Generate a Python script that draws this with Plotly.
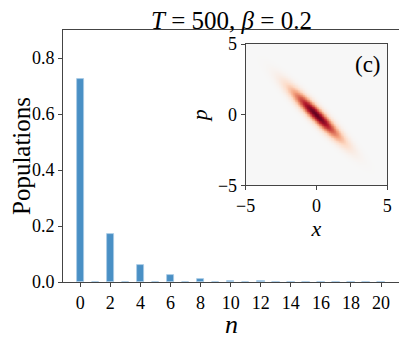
import numpy as np
import plotly.graph_objects as go

# populations (n = 0..20, odd levels empty)
n_levels = list(range(0, 21))
populations = [0.725, 0, 0.172, 0, 0.061, 0, 0.024, 0, 0.010, 0, 0.0043,
               0, 0.0019, 0, 0.0008, 0, 0.0004, 0, 0.0002, 0, 0.0001]
x_ticks = list(range(0, 21, 2))
y_ticks = [0.0, 0.2, 0.4, 0.6, 0.8]
y_labels = ["0.0", "0.2", "0.4", "0.6", "0.8"]

# inset: squeezed-vacuum Wigner function
squeeze_r = 0.85
squeeze_angle = -45  # degrees, long axis direction
inset_ticks = [-5, 0, 5]
inset_labels = ["−5", "0", "5"]

font = "Liberation Serif, DejaVu Serif, serif"
frame = "#444444"
tickfont = dict(family=font, size=18, color="black")

xs = np.linspace(-5, 5, 201)
ps = np.linspace(-5, 5, 201)
X, P = np.meshgrid(xs, ps)
th = np.deg2rad(squeeze_angle)
u = X * np.cos(th) + P * np.sin(th)
v = -X * np.sin(th) + P * np.cos(th)
sl = np.exp(squeeze_r) / np.sqrt(2)
ss = np.exp(-squeeze_r) / np.sqrt(2)
W = np.exp(-u**2 / (2 * sl**2) - v**2 / (2 * ss**2)) / np.pi
wmax = W.max()

rdbu_r = [[0.0, "#053061"], [0.1, "#2166ac"], [0.2, "#4393c3"], [0.3, "#92c5de"],
          [0.4, "#d1e5f0"], [0.5, "#f7f7f7"], [0.6, "#fddbc7"], [0.7, "#f4a582"],
          [0.8, "#d6604d"], [0.9, "#b2182b"], [1.0, "#67001f"]]

axis_style = dict(ticks="outside", ticklen=4, tickcolor=frame, showgrid=False,
                  zeroline=False, showline=True, linecolor=frame, mirror=True,
                  linewidth=1, automargin=False, tickfont=tickfont)

fig = go.Figure()
fig.add_trace(go.Bar(x=n_levels, y=populations, width=0.5,
                     marker=dict(color="#4a90c5", line=dict(color="#a9cbe6", width=0.8)),
                     xaxis="x", yaxis="y", showlegend=False))
fig.add_trace(go.Heatmap(x=xs, y=ps, z=W, zmin=-wmax, zmax=wmax, colorscale=rdbu_r,
                         showscale=False, xaxis="x2", yaxis="y2"))

# page body adds an 8px margin, so the figure is 8px smaller than the window
fig.update_layout(
    width=399, height=331,
    margin=dict(l=55, r=7, t=22, b=57, autoexpand=False),
    paper_bgcolor="white", plot_bgcolor="white",
    font=dict(family=font, size=18, color="black"),
    title=dict(text="<i>T</i> = 500, <i>β</i> = 0.2", x=0.5, xref="paper", xanchor="center",
               y=1 - 12.5 / 331, yanchor="middle", font=dict(family=font, size=25)),
    bargap=0,
    xaxis=dict(domain=[0, 1], range=[-1.15, 21.26], tickvals=x_ticks,
               title=dict(text="<i>n</i>", font=dict(family=font, size=26), standoff=3),
               **axis_style),
    yaxis=dict(domain=[0, 1], range=[0, 0.9], tickvals=y_ticks, ticktext=y_labels,
               title=dict(text="Populations", font=dict(family=font, size=25), standoff=11),
               **axis_style),
    xaxis2=dict(domain=[0.542, 0.962], anchor="y2", range=[-5, 5], tickvals=inset_ticks,
                ticktext=inset_labels,
                title=dict(text="<i>x</i>", font=dict(family=font, size=22), standoff=0),
                **axis_style),
    yaxis2=dict(domain=[0.384, 0.944], anchor="x2", range=[-5, 5], tickvals=inset_ticks,
                ticktext=inset_labels,
                title=dict(text="<i>p</i>", font=dict(family=font, size=22), standoff=4),
                **axis_style),
    annotations=[dict(text="(c)", xref="x2", yref="y2", x=4.7, y=4.6,
                      xanchor="right", yanchor="top", showarrow=False,
                      font=dict(family=font, size=23))],
)

fig.write_html("out.html")
